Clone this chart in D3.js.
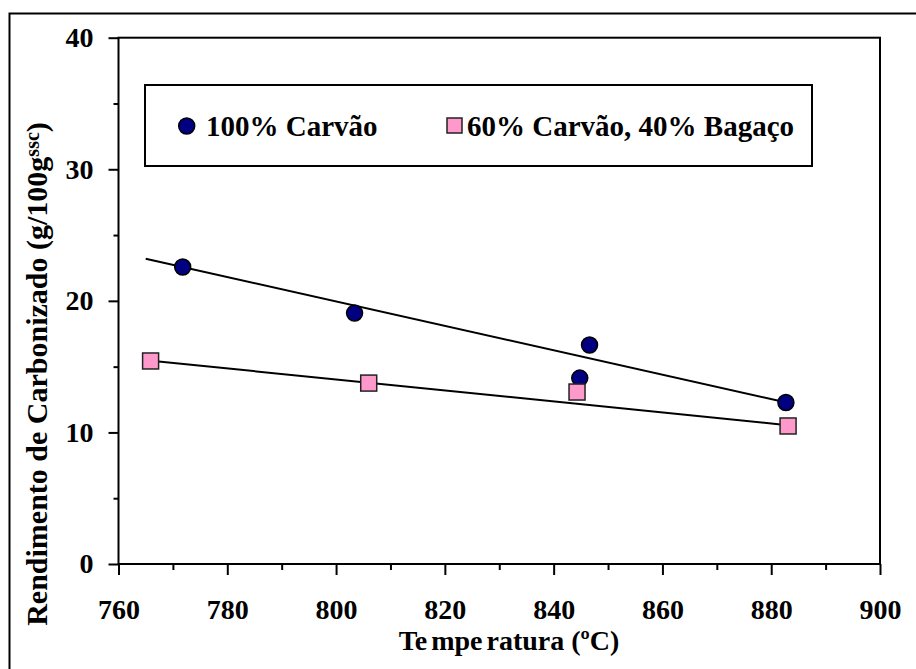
<!DOCTYPE html>
<html>
<head>
<meta charset="utf-8">
<script src="https://cdn.jsdelivr.net/npm/d3@7"></script>
<style>
  body { margin: 0; background: #fff; }
  svg text { font-family: "Liberation Serif", Tinos, "Times New Roman", Times, "DejaVu Serif", serif; font-weight: bold; fill: #000; }
</style>
</head>
<body>
<div id="chart"></div>
<script>
// data
var carvaoTemp = [771.8, 803.4, 844.8, 846.6, 882.7];
var carvaoRend = [22.57, 19.07, 14.13, 16.64, 12.27];
var misturaTemp = [765.9, 806.0, 844.3, 883.1];
var misturaRend = [15.43, 13.75, 13.07, 10.49];
// trend lines (start/end as drawn)
var trendCarvao = [[765, 23.2], [883, 12.25]];
var trendMistura = [[766, 15.45], [883, 10.55]];
var xTicks = [760, 780, 800, 820, 840, 860, 880, 900];
var xMinor = [770, 790, 810, 830, 850, 870, 890];
var yTicks = [0, 10, 20, 30, 40];
var yMinor = [5, 15, 25, 35];
var legendLabels = ["100% Carvão", "60% Carvão, 40% Bagaço"];

function init(){
    var w = 916, h = 669;
    var plot = { left: 118.5, top: 37.7, right: 880, bottom: 564 };
    var serif = '"Liberation Serif", Tinos, "Times New Roman", Times, "DejaVu Serif", serif';

    var svg = d3.select("#chart").append("svg")
        .attr("width", w)
        .attr("height", h)
        .attr("font-family", serif);

    // outer frame (only left/top visible)
    svg.append("rect")
        .attr("x", 9.5).attr("y", 13.5)
        .attr("width", 930).attr("height", 680)
        .attr("fill", "none").attr("stroke", "#000").attr("stroke-width", 2);

    var x = d3.scaleLinear().domain([760, 900]).range([plot.left, plot.right]);
    var y = d3.scaleLinear().domain([0, 40]).range([plot.bottom, plot.top]);

    // minor ticks
    svg.append("g")
        .attr("transform", `translate(${plot.left},0)`)
        .call(d3.axisLeft(y).tickValues(yMinor).tickSize(5).tickSizeOuter(0).tickFormat(""))
        .call(g => g.select(".domain").remove())
        .selectAll("line").attr("stroke-width", 2);
    svg.append("g")
        .attr("transform", `translate(0,${plot.bottom})`)
        .call(d3.axisBottom(x).tickValues(xMinor).tickSize(6).tickSizeOuter(0).tickFormat(""))
        .call(g => g.select(".domain").remove())
        .selectAll("line").attr("stroke-width", 2);

    // Y axis
    var yAxis = svg.append("g")
        .attr("transform", `translate(${plot.left},0)`)
        .call(d3.axisLeft(y).tickValues(yTicks).tickSize(10).tickSizeOuter(0).tickPadding(15).tickFormat(d3.format("d")));
    yAxis.attr("font-family", serif);
    yAxis.select(".domain").remove();
    yAxis.selectAll("line").attr("stroke-width", 2);
    yAxis.selectAll("text").style("font-size", "28px").style("font-family", serif);

    // X axis
    var xAxis = svg.append("g")
        .attr("transform", `translate(0,${plot.bottom})`)
        .call(d3.axisBottom(x).tickValues(xTicks).tickSize(11).tickSizeOuter(0).tickPadding(24).tickFormat(d3.format("d")));
    xAxis.attr("font-family", serif);
    xAxis.select(".domain").remove();
    xAxis.selectAll("line").attr("stroke-width", 2);
    xAxis.selectAll("text").style("font-size", "28px").style("font-family", serif);

    // plot frame
    svg.append("rect")
        .attr("x", plot.left).attr("y", plot.top)
        .attr("width", plot.right - plot.left).attr("height", plot.bottom - plot.top)
        .attr("fill", "none").attr("stroke", "#000").attr("stroke-width", 2);

    // trend lines
    var line = d3.line().x(d => x(d[0])).y(d => y(d[1]));
    [trendCarvao, trendMistura].forEach(function(t){
        svg.append("path")
            .attr("d", line(t))
            .attr("fill", "none").attr("stroke", "#000").attr("stroke-width", 2);
    });

    // 100% Carvão points
    svg.selectAll(".pt-carvao")
        .data(carvaoTemp.map((t, i) => [t, carvaoRend[i]]))
        .enter().append("circle")
        .attr("class", "pt-carvao")
        .attr("cx", d => x(d[0]))
        .attr("cy", d => y(d[1]))
        .attr("r", 8)
        .attr("fill", "#000080").attr("stroke", "#000").attr("stroke-width", 1.5);

    // 60/40 points
    var s = 16;
    svg.selectAll(".pt-mistura")
        .data(misturaTemp.map((t, i) => [t, misturaRend[i]]))
        .enter().append("rect")
        .attr("class", "pt-mistura")
        .attr("x", d => x(d[0]) - s / 2)
        .attr("y", d => y(d[1]) - s / 2)
        .attr("width", s).attr("height", s)
        .attr("fill", "#ff99cc").attr("stroke", "#222").attr("stroke-width", 1.5);

    // legend
    var lg = svg.append("g");
    lg.append("rect")
        .attr("x", 145).attr("y", 85).attr("width", 667).attr("height", 81)
        .attr("fill", "#fff").attr("stroke", "#000").attr("stroke-width", 2);
    lg.append("circle")
        .attr("cx", 186.7).attr("cy", 126).attr("r", 8)
        .attr("fill", "#000080").attr("stroke", "#000").attr("stroke-width", 1.5);
    lg.append("text")
        .attr("x", 206).attr("y", 136)
        .style("font-size", "29px")
        .text(legendLabels[0]);
    lg.append("rect")
        .attr("x", 447).attr("y", 118).attr("width", 15).attr("height", 15)
        .attr("fill", "#ff99cc").attr("stroke", "#222").attr("stroke-width", 1.5);
    lg.append("text")
        .attr("x", 467).attr("y", 136)
        .style("font-size", "29px")
        .text(legendLabels[1]);

    // X axis title
    var xt = svg.append("text")
        .attr("x", 509).attr("y", 650)
        .attr("text-anchor", "middle")
        .style("font-size", "28px");
    xt.append("tspan").text("Te");
    xt.append("tspan").attr("dx", 4).text("mpe");
    xt.append("tspan").attr("dx", 4).text("ratura (ºC)");

    // Y axis title
    var yt = svg.append("text")
        .attr("transform", "translate(47,374) rotate(-90)")
        .attr("text-anchor", "middle")
        .style("font-size", "30px");
    yt.append("tspan").text("Rendimento de Carbonizado (g/100g");
    yt.append("tspan").attr("dy", -8).style("font-size", "20px").text("ssc");
    yt.append("tspan").attr("dy", 8).text(")");
}

window.onload = init;
</script>
</body>
</html>
